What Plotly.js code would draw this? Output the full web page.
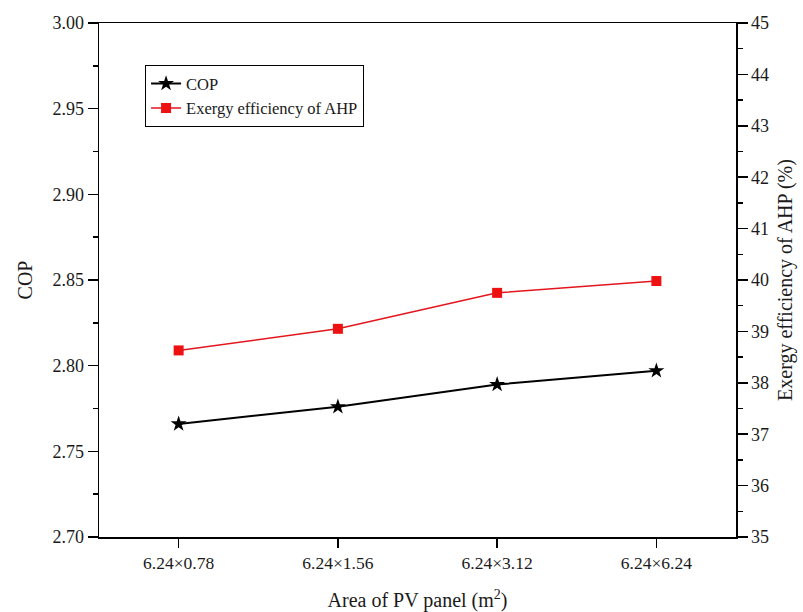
<!DOCTYPE html>
<html>
<head>
<meta charset="utf-8">
<script src="https://cdn.plot.ly/plotly-3.0.1.min.js"></script>
<style>html,body{margin:0;padding:0;background:#fff;}#chart{width:803px;height:612px;}</style>
</head>
<body>
<div id="chart"></div>
<script>
var categories = ["6.24×0.78", "6.24×1.56", "6.24×3.12", "6.24×6.24"];
var copValues = [2.766, 2.776, 2.789, 2.797];
var exergyValues = [38.63, 39.05, 39.75, 39.98];
var leftTicks = [2.70, 2.75, 2.80, 2.85, 2.90, 2.95, 3.00];
var rightTicks = [35, 36, 37, 38, 39, 40, 41, 42, 43, 44, 45];

var font = "Liberation Serif";
var txt = "#1a1a1a";

var traces = [
  {
    x: categories, y: copValues, name: "COP", type: "scatter", mode: "lines+markers",
    line: {color: "#000000", width: 2},
    marker: {symbol: "star", size: 12, color: "#000000"},
    yaxis: "y"
  },
  {
    x: categories, y: exergyValues, name: "Exergy efficiency of AHP", type: "scatter", mode: "lines+markers",
    line: {color: "#e3151d", width: 1.5},
    marker: {symbol: "square", size: 10, color: "#ee1111"},
    yaxis: "y2"
  }
];

var layout = {
  width: 803, height: 612,
  margin: {l: 99, r: 67, t: 23, b: 75},
  paper_bgcolor: "#ffffff", plot_bgcolor: "#ffffff",
  font: {family: font, size: 18, color: txt},
  showlegend: true,
  legend: {
    x: 0.072, y: 0.918, xanchor: "left", yanchor: "top",
    bordercolor: "#000000", borderwidth: 1.2, bgcolor: "#ffffff",
    font: {family: font, size: 16.5, color: txt},
    tracegroupgap: 0
  },
  xaxis: {
    type: "category", range: [-0.5, 3.5],
    showline: true, linecolor: "#000", linewidth: 1.5, mirror: true,
    ticks: "outside", ticklen: 9, tickwidth: 1.5, tickcolor: "#000",
    showgrid: false, zeroline: false,
    tickfont: {family: font, size: 17.5, color: txt},
    title: {text: "Area of PV panel (m<sup>2</sup>)", font: {family: font, size: 20, color: txt}, standoff: 22}
  },
  yaxis: {
    range: [2.70, 3.00], tickvals: leftTicks, tickformat: ".2f",
    showline: true, linecolor: "#000", linewidth: 1.5,
    ticks: "outside", ticklen: 10, tickwidth: 1.5, tickcolor: "#000",
    minor: {dtick: 0.025, ticks: "outside", ticklen: 5, tickwidth: 1.5, tickcolor: "#000"},
    showgrid: false, zeroline: false,
    tickfont: {family: font, size: 18, color: txt},
    title: {text: "COP", font: {family: font, size: 20, color: txt}, standoff: 14}
  },
  yaxis2: {
    range: [35, 45], tickvals: rightTicks, overlaying: "y", side: "right",
    showline: true, linecolor: "#000", linewidth: 1.5,
    ticks: "outside", ticklen: 10, tickwidth: 1.5, tickcolor: "#000",
    minor: {dtick: 0.5, ticks: "outside", ticklen: 5, tickwidth: 1.5, tickcolor: "#000"},
    showgrid: false, zeroline: false,
    tickfont: {family: font, size: 18, color: txt},
    title: {text: "Exergy efficiency of AHP (%)", font: {family: font, size: 20, color: txt}, standoff: 10}
  }
};

Plotly.newPlot("chart", traces, layout, {displayModeBar: false, staticPlot: true});
</script>
</body>
</html>
